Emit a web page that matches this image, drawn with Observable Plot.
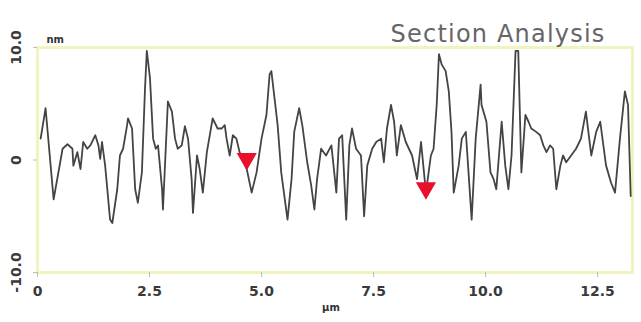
<!DOCTYPE html>
<html>
<head>
<meta charset="utf-8">
<script src="https://cdn.jsdelivr.net/npm/d3@7"></script>
<script src="https://cdn.jsdelivr.net/npm/@observablehq/plot@0.6"></script>
<style>
  html, body { margin: 0; padding: 0; background: #fff; }
  #chart { width: 641px; height: 322px; overflow: hidden; }
  #chart g[font-size="24"] { letter-spacing: 1.2px; }
</style>
</head>
<body>
<div id="chart"></div>
<script>
const title = "Section Analysis";
const xUnit = "µm";
const yUnit = "nm";
const xTicks = [0, 2.5, 5.0, 7.5, 10.0, 12.5];
const yTicks = [-10, 0, 10];

// profile position (µm)
const posX = [0.07,0.18,0.36,0.56,0.67,0.78,0.80,0.89,0.96,1.02,1.11,1.18,1.29,1.36,1.40,1.44,1.51,1.62,1.67,1.78,
  1.84,1.91,2.00,2.02,2.11,2.18,2.24,2.33,2.40,2.44,2.51,2.58,2.64,2.69,2.78,2.80,2.89,2.91,3.00,3.07,
  3.13,3.22,3.29,3.36,3.44,3.47,3.56,3.62,3.69,3.78,3.91,4.02,4.11,4.18,4.22,4.29,4.36,4.44,4.51,4.67,
  4.78,4.89,5.00,5.11,5.18,5.22,5.29,5.36,5.44,5.56,5.58,5.67,5.73,5.84,5.91,6.02,6.11,6.18,6.24,6.33,
  6.44,6.56,6.67,6.73,6.80,6.89,6.96,7.02,7.11,7.22,7.29,7.36,7.47,7.56,7.67,7.73,7.80,7.89,7.96,8.02,
  8.11,8.22,8.29,8.36,8.47,8.56,8.67,8.78,8.84,8.91,8.96,9.02,9.11,9.18,9.24,9.29,9.40,9.47,9.56,9.62,
  9.69,9.78,9.89,9.91,10.02,10.11,10.18,10.24,10.36,10.44,10.51,10.58,10.67,10.73,10.80,10.89,10.96,11.02,11.13,11.22,
  11.29,11.36,11.44,11.51,11.58,11.67,11.73,11.80,11.91,12.02,12.13,12.24,12.36,12.47,12.56,12.69,12.80,12.89,13.00,13.11,
  13.18,13.24];
// profile height (nm)
const posY = [1.9,4.6,-3.5,1.0,1.4,1.0,-0.5,0.7,-0.8,1.6,1.0,1.3,2.2,1.3,0.1,1.6,-0.5,-5.3,-5.6,-2.6,
  0.4,1.0,3.1,3.7,2.8,-2.6,-3.8,-1.1,6.4,9.7,7.3,1.9,1.0,1.3,-2.6,-4.4,3.4,5.2,4.3,1.9,
  1.0,1.3,3.0,1.9,-1.7,-4.7,0.4,-0.8,-2.9,0.7,3.7,2.8,2.8,3.1,1.9,0.4,2.2,1.9,0.7,-0.8,
  -2.9,-1.1,1.9,4.0,7.6,7.9,5.5,3.1,-1.1,-4.7,-5.3,-1.7,2.5,4.6,3.1,-0.2,-2.3,-4.4,-1.7,1.0,
  0.4,1.3,-2.9,1.9,2.2,-5.3,1.3,2.8,1.0,0.4,-5.0,-0.5,1.0,1.6,1.9,-0.2,2.8,4.9,3.4,0.4,
  3.1,1.6,1.0,0.4,-1.7,1.6,-2.9,0.4,1.0,4.9,9.4,8.5,7.9,6.1,2.5,-2.9,-0.5,1.9,2.5,-1.1,
  -5.3,1.9,6.7,4.9,3.4,-1.1,-1.7,-2.6,3.4,-0.5,-2.6,0.4,9.7,9.7,-1.1,4.0,3.4,2.8,2.5,2.2,
  1.3,0.7,1.3,1.0,-2.6,-0.5,0.4,-0.2,0.4,1.0,1.9,4.3,0.4,2.5,3.4,-0.5,-2.0,-2.9,1.9,6.1,
  4.9,-3.2];

// red cursor markers
const markerX = [4.67, 8.67];
const markerY = [0.1, -2.5];

const profile = posX.map((x, i) => ({x, y: posY[i]}));
const markers = markerX.map((x, i) => ({x, y: markerY[i]}));

const fmt = d => d === 0 ? "0" : d.toFixed(1);

const chart = Plot.plot({
  width: 641,
  height: 322,
  marginLeft: 37,
  marginRight: 9,
  marginTop: 47,
  marginBottom: 50,
  style: {background: "#fff", overflow: "visible"},
  x: {domain: [0, 13.28]},
  y: {domain: [-10, 10]},
  marks: [
    Plot.frame({stroke: "#f2f4bf", strokeWidth: 3}),
    Plot.axisX({ticks: xTicks, tickFormat: fmt, tickSize: 5, tickPadding: 9, stroke: "#bbb", fill: "#3a3a3a",
      fontSize: 14, fontWeight: "bold", fontFamily: "DejaVu Sans", label: null}),
    Plot.axisY({ticks: yTicks, tickFormat: fmt, tickSize: 4, tickPadding: 13, tickRotate: -90, textAnchor: "middle",
      stroke: "#bbb", fill: "#3a3a3a", fontSize: 14, fontWeight: "bold", fontFamily: "DejaVu Sans", label: null}),
    Plot.line(profile, {x: "x", y: "y", stroke: "#444", strokeWidth: 1.8, strokeLinejoin: "round"}),
    Plot.dot(markers, {x: "x", y: "y", symbol: "triangle", rotate: 180, r: 7.5, fill: "#e8102a", stroke: "none"}),
    Plot.text([title], {frameAnchor: "top-right", dx: -27, dy: -23, text: d => d, fontSize: 24,
      fontFamily: "DejaVu Sans", fill: "#666", textAnchor: "end"}),
    Plot.text([yUnit], {frameAnchor: "top-left", dx: 9, dy: -12, text: d => d, fontSize: 10,
      fontWeight: "bold", fontFamily: "DejaVu Sans", fill: "#333", textAnchor: "start"}),
    Plot.text([xUnit], {x: () => 6.55, frameAnchor: "bottom", dy: 38, text: d => d, fontSize: 10,
      fontWeight: "bold", fontFamily: "DejaVu Sans", fill: "#333"})
  ]
});
document.getElementById("chart").appendChild(chart);
</script>
</body>
</html>
